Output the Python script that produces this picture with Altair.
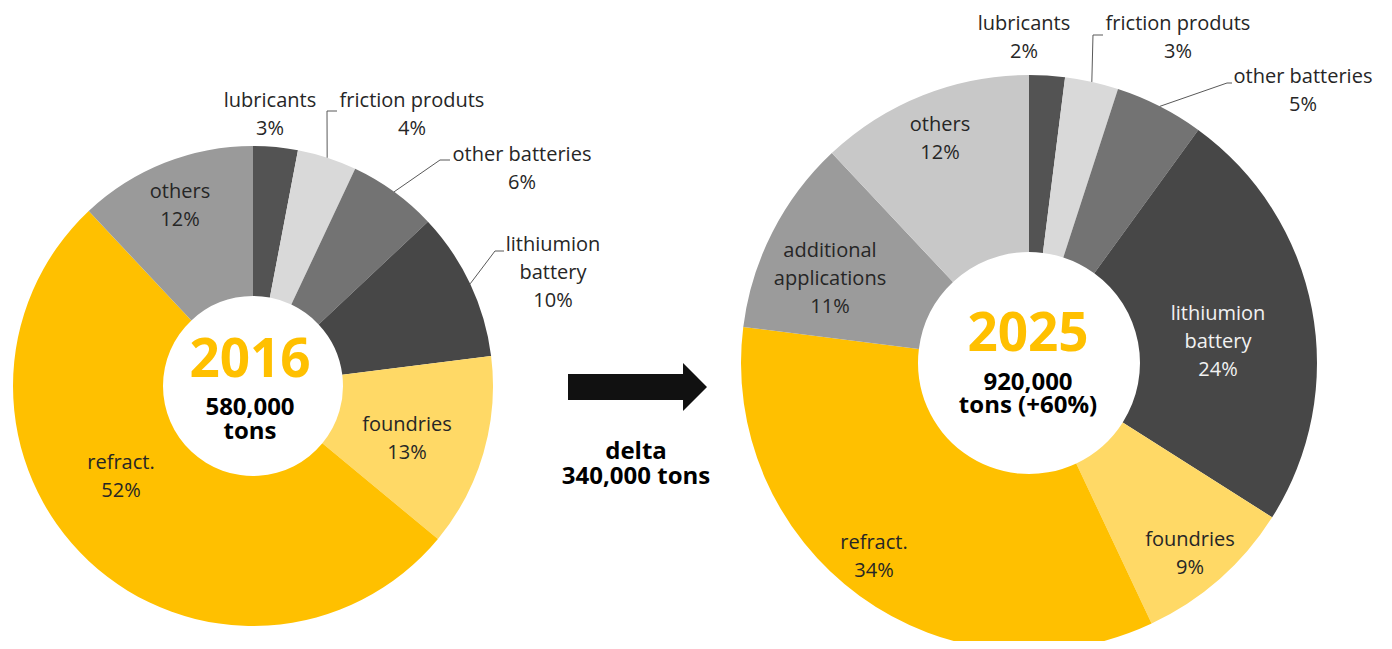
import altair as alt
import numpy as np
import pandas as pd

# ---------------- data ----------------
left_categories = ["lubricants", "friction produts", "other batteries",
                   "lithiumion battery", "foundries", "refract.", "others"]
left_shares = [3, 4, 6, 10, 13, 52, 12]

right_categories = ["lubricants", "friction produts", "other batteries",
                    "lithiumion battery", "foundries", "refract.",
                    "additional applications", "others"]
right_shares = [2, 3, 5, 24, 9, 34, 11, 12]

left_year = "2016"
left_total = ["580,000", "tons"]
right_year = "2025"
right_total = ["920,000", "tons (+60%)"]
delta_lines = ["delta", "340,000 tons"]

# ---------------- styles / layout ----------------
OFF = 8  # page margin
palette = {"lubricants": "#535353", "friction produts": "#d9d9d9",
           "other batteries": "#737373", "lithiumion battery": "#474747",
           "foundries": "#ffd966", "refract.": "#ffc000",
           "additional applications": "#9b9b9b"}
others_left_color = "#9a9a9a"
others_right_color = "#c8c8c8"
display = {"lithiumion battery": ["lithiumion", "battery"],
           "additional applications": ["additional", "applications"]}
TEXT = "#262626"
YELLOW = "#ffc000"
FONT = "Open Sans"
LABEL_SIZE = 20
LINE_H = 28

left_geo = dict(cx=253, cy=386, R=240, r=90)
right_geo = dict(cx=1029, cy=363, R=288, r=111)

# label anchor (center x, first baseline) in page pixels
left_label_pos = {"lubricants": (270, 107), "friction produts": (412, 107),
                  "other batteries": (522, 161), "lithiumion battery": (553, 251),
                  "foundries": (407, 431), "refract.": (121, 469), "others": (180, 198)}
right_label_pos = {"lubricants": (1024, 30), "friction produts": (1178, 30),
                   "other batteries": (1303, 83), "lithiumion battery": (1218, 320),
                   "foundries": (1190, 546), "refract.": (874, 549),
                   "additional applications": (830, 257), "others": (940, 131)}
right_label_colors = {"lithiumion battery": "#f2f2f2"}

# leader lines: elbow and end points (page pixels); start is computed from the data
left_leaders = {"friction produts": [(327, 111), (337, 111)],
                "other batteries": [(440, 160), (450, 160)],
                "lithiumion battery": [(495, 251), (504, 251)]}
right_leaders = {"friction produts": [(1093, 35), (1103, 35)],
                 "other batteries": [(1227, 83), (1232, 83)]}


def donut_layers(cats, shares, others_color, geo, label_pos, label_colors, leaders):
    df = pd.DataFrame({"category": cats, "share": shares})
    df["order"] = np.arange(len(df))
    df["color"] = [palette.get(c, others_color) for c in cats]

    arcs = alt.Chart(df).mark_arc(outerRadius=geo["R"], innerRadius=geo["r"]).encode(
        theta=alt.Theta("share:Q", stack=True),
        order=alt.Order("order:Q"),
        color=alt.Color("color:N", scale=None, legend=None),
        x=alt.value(geo["cx"] - OFF),
        y=alt.value(geo["cy"] - OFF),
    )

    rows = []
    for c, s in zip(cats, shares):
        lx, ly = label_pos[c]
        lines = display.get(c, [c]) + [f"{s}%"]
        for i, t in enumerate(lines):
            rows.append({"x": lx - OFF, "y": ly + i * LINE_H - OFF, "text": t,
                         "color": label_colors.get(c, TEXT)})
    ldf = pd.DataFrame(rows)
    labels = alt.Chart(ldf).mark_text(font=FONT, fontSize=LABEL_SIZE, align="center",
                                      baseline="alphabetic").encode(
        x=alt.X("x:Q", scale=None, axis=None),
        y=alt.Y("y:Q", scale=None, axis=None),
        text="text:N",
        color=alt.Color("color:N", scale=None, legend=None),
    )

    total = float(sum(shares))
    cum = np.cumsum(shares)
    seg = []
    for c, s, cu in zip(cats, shares, cum):
        if c not in leaders:
            continue
        a = (cu - s / 2.0) / total * 2 * np.pi
        sx = geo["cx"] + geo["R"] * np.sin(a)
        sy = geo["cy"] - geo["R"] * np.cos(a)
        pts = [(sx, sy)] + leaders[c]
        for (x1, y1), (x2, y2) in zip(pts[:-1], pts[1:]):
            seg.append({"x": x1 - OFF, "y": y1 - OFF, "x2": x2 - OFF, "y2": y2 - OFF})
    sdf = pd.DataFrame(seg)
    lines = alt.Chart(sdf).mark_rule(color="#595959", strokeWidth=1).encode(
        x=alt.X("x:Q", scale=None, axis=None),
        y=alt.Y("y:Q", scale=None, axis=None),
        x2="x2:Q", y2="y2:Q",
    )
    return [arcs, lines, labels]


def center_text(year, total_lines, x, year_base, total_base, year_size, total_size, total_lh):
    rows = [{"x": x - OFF, "y": year_base - OFF, "text": year, "kind": "year"}]
    for i, t in enumerate(total_lines):
        rows.append({"x": x - OFF, "y": total_base + i * total_lh - OFF, "text": t, "kind": "total"})
    df = pd.DataFrame(rows)
    base = alt.Chart(df)
    yr = base.transform_filter(alt.datum.kind == "year").mark_text(
        font=FONT, fontSize=year_size, fontWeight="bold", color=YELLOW,
        align="center", baseline="alphabetic").encode(
        x=alt.X("x:Q", scale=None, axis=None), y=alt.Y("y:Q", scale=None, axis=None), text="text:N")
    tt = base.transform_filter(alt.datum.kind == "total").mark_text(
        font=FONT, fontSize=total_size, fontWeight="bold", color="#000000",
        align="center", baseline="alphabetic", lineHeight=total_lh).encode(
        x=alt.X("x:Q", scale=None, axis=None), y=alt.Y("y:Q", scale=None, axis=None), text="text:N")
    return [yr, tt]


layers = []
layers += donut_layers(left_categories, left_shares, others_left_color, left_geo,
                       left_label_pos, {}, left_leaders)
layers += donut_layers(right_categories, right_shares, others_right_color, right_geo,
                       right_label_pos, right_label_colors, right_leaders)
layers += center_text(left_year, left_total, 250, 377, 415, 53, 24, 24)
layers += center_text(right_year, right_total, 1028, 351, 390, 53, 24, 23)

# arrow
arrow_path = "M-1,-0.187L0.655,-0.187L0.655,-0.345L1,0L0.655,0.345L0.655,0.187L-1,0.187Z"
arrow = alt.Chart(pd.DataFrame({"k": [0]})).mark_point(
    shape=arrow_path, filled=True, color="#111111", opacity=1, strokeWidth=0).encode(
    x=alt.value(637.5 - OFF), y=alt.value(387 - OFF), size=alt.value(139 * 139))
layers.append(arrow)

ddf = pd.DataFrame({"x": [636 - OFF] * 2, "y": [459 - OFF, 484 - OFF], "text": delta_lines})
delta = alt.Chart(ddf).mark_text(font=FONT, fontSize=24, fontWeight="bold", color="#000000",
                                 align="center", baseline="alphabetic").encode(
    x=alt.X("x:Q", scale=None, axis=None), y=alt.Y("y:Q", scale=None, axis=None), text="text:N")
layers.append(delta)

chart = alt.layer(*layers).resolve_scale(theta="independent").properties(
    width=1392 - 2 * OFF, height=649 - 2 * OFF, padding=0, autosize="none",
    background="#ffffff"
).configure_view(stroke=None)

chart.save("out.html", embed_options={"renderer": "svg", "actions": False})
